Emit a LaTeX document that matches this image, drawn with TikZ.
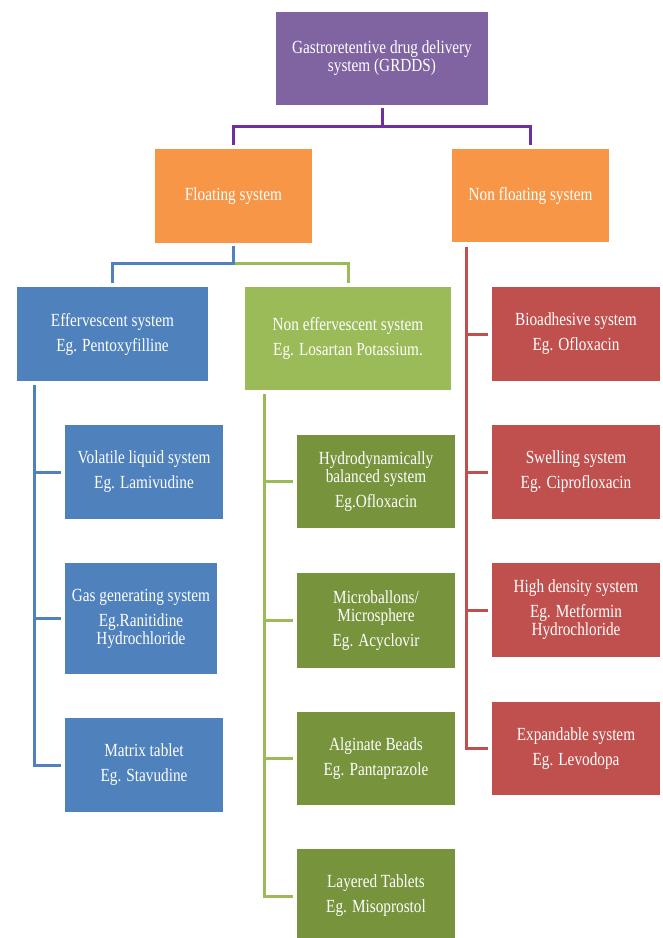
\documentclass[tikz,border=0pt]{standalone}
\usepackage{fontspec}
\setmainfont{Liberation Serif}[FakeStretch=0.825]
\definecolor{cpurple}{RGB}{128,100,162}
\definecolor{corange}{RGB}{247,150,70}
\definecolor{cblue}{RGB}{79,129,189}
\definecolor{cgreen}{RGB}{155,187,89}
\definecolor{cdgreen}{RGB}{119,147,60}
\definecolor{cred}{RGB}{192,80,77}
\definecolor{lpurple}{RGB}{112,48,160}
\begin{document}
\begin{tikzpicture}[x=1pt,y=-1pt,
  box/.style={rectangle, inner sep=0pt, align=center, text=white,
    font=\fontsize{18.5}{18}\selectfont},
  conn/.style={line width=3pt, shorten <=3pt, shorten >=3.5pt},
  pl/.style={conn, draw=lpurple},
  bl/.style={conn, draw=cblue},
  gl/.style={conn, draw=cgreen},
  rl/.style={conn, draw=cred}]
\useasboundingbox (0,0) rectangle (662,938);
\fill[white] (0,0) rectangle (662,938);
% top
\node[box, fill=cpurple, minimum width=212pt, minimum height=93pt] (top) at (382,58.5)
  {Gastroretentive drug delivery\\system (GRDDS)};
% level 2
\node[box, fill=corange, minimum width=157pt, minimum height=94pt] (float) at (233.5,196) {Floating system};
\node[box, fill=corange, minimum width=157pt, minimum height=93pt] (nfloat) at (530.5,195.5) {Non floating system};
% level 3
\node[box, fill=cblue, minimum width=191pt, minimum height=94pt] (eff) at (112.5,334)
  {Effervescent system\\[7pt]Eg. Pentoxyfilline};
\node[box, fill=cgreen, minimum width=206pt, minimum height=103pt] (neff) at (348,338.5)
  {Non effervescent system\\[7pt]Eg. Losartan Potassium.};
% blue children
\node[box, fill=cblue, minimum width=158pt, minimum height=94pt] (vol) at (144,472)
  {Volatile liquid system\\[7pt]Eg. Lamivudine};
\node[box, fill=cblue, minimum width=152pt, minimum height=111pt] (gas) at (141,618.5)
  {Gas generating system\\[7pt]Eg.Ranitidine\\Hydrochloride};
\node[box, fill=cblue, minimum width=158pt, minimum height=94pt] (mat) at (144,765)
  {Matrix tablet\\[7pt]Eg. Stavudine};
% green children
\node[box, fill=cdgreen, minimum width=158pt, minimum height=93pt] (hydro) at (376,481.5)
  {Hydrodynamically\\balanced system\\[7pt]Eg.Ofloxacin};
\node[box, fill=cdgreen, minimum width=158pt, minimum height=95pt] (micro) at (376,620.5)
  {Microballons/\\Microsphere\\[7pt]Eg. Acyclovir};
\node[box, fill=cdgreen, minimum width=158pt, minimum height=93pt] (alg) at (376,758.5)
  {Alginate Beads\\[7pt]Eg. Pantaprazole};
\node[box, fill=cdgreen, minimum width=158pt, minimum height=94pt] (lay) at (376,896)
  {Layered Tablets\\[7pt]Eg. Misoprostol};
% red children
\node[box, fill=cred, minimum width=168pt, minimum height=94pt] (bio) at (576,334)
  {Bioadhesive system\\[7pt]Eg. Ofloxacin};
\node[box, fill=cred, minimum width=168pt, minimum height=94pt] (swell) at (576,472)
  {Swelling system\\[7pt]Eg. Ciprofloxacin};
\node[box, fill=cred, minimum width=168pt, minimum height=94pt] (high) at (576,610)
  {High density system\\[7pt]Eg. Metformin\\Hydrochloride};
\node[box, fill=cred, minimum width=168pt, minimum height=93pt] (exp) at (576,748.5)
  {Expandable system\\[7pt]Eg. Levodopa};
% connectors
\draw[pl] (top.south) -- ++(0,21) -| (float.north);
\draw[pl] (top.south) -- ++(0,21) -| (nfloat.north);
\draw[gl] (float.south) -- ++(0,20) -| (neff.north);
\draw[bl] (float.south) -- ++(0,20) -| (eff.north);
\coordinate (bs) at (34,385);
\draw[bl, shorten <=0pt] (bs) |- (vol.west);
\draw[bl, shorten <=0pt] (bs) |- (gas.west);
\draw[bl, shorten <=0pt] (bs) |- (mat.west);
\coordinate (gs) at (264,394);
\draw[gl, shorten <=0pt] (gs) |- (hydro.west);
\draw[gl, shorten <=0pt] (gs) |- (micro.west);
\draw[gl, shorten <=0pt] (gs) |- (alg.west);
\draw[gl, shorten <=0pt] (gs) |- (lay.west);
\coordinate (rs) at (466,247);
\draw[rl, shorten <=0pt] (rs) |- (bio.west);
\draw[rl, shorten <=0pt] (rs) |- (swell.west);
\draw[rl, shorten <=0pt] (rs) |- (high.west);
\draw[rl, shorten <=0pt] (rs) |- (exp.west);
\end{tikzpicture}
\end{document}
